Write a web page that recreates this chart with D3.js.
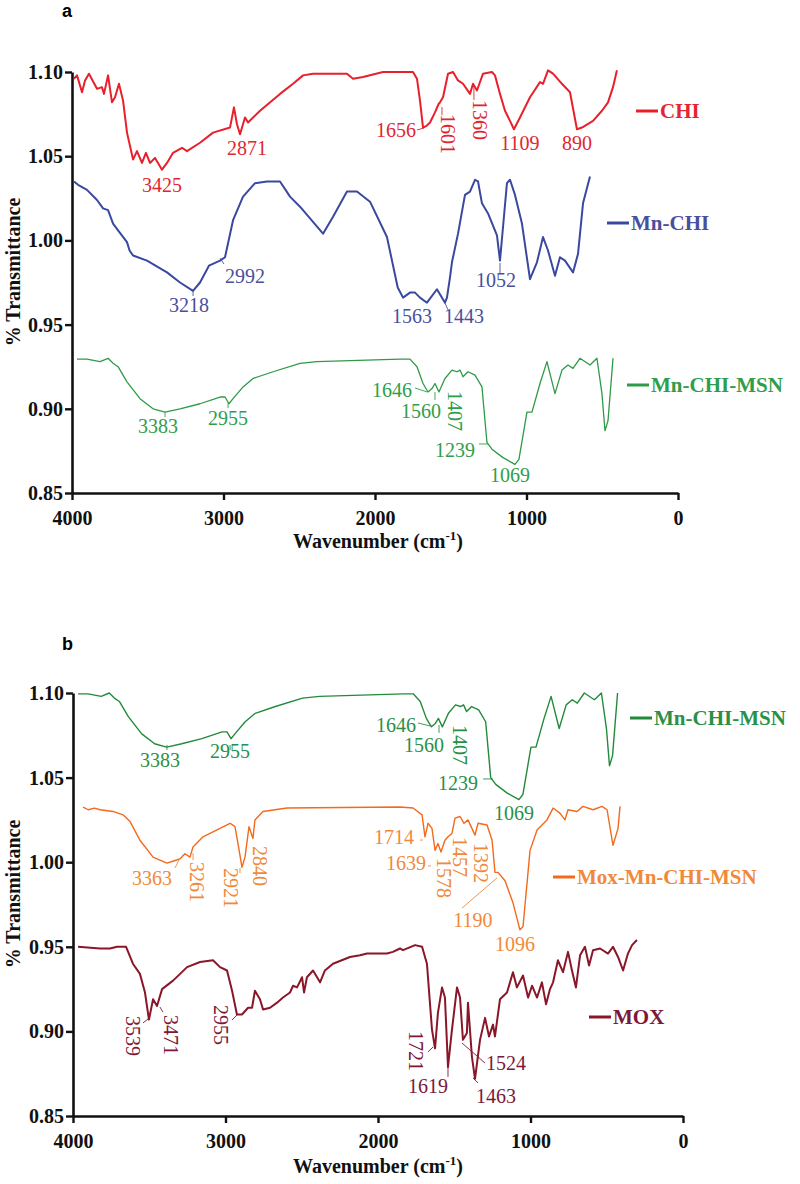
<!DOCTYPE html>
<html><head><meta charset="utf-8">
<script src="https://cdn.jsdelivr.net/npm/d3@7"></script>
<style>body{margin:0;background:#fff}svg{display:block}</style>
</head><body>
<script>
// ---------- data ----------
const yTicks = [0.85, 0.90, 0.95, 1.00, 1.05, 1.10];
const xTicks = [4000, 3000, 2000, 1000, 0];

// [wavenumber, transmittance]
const chi = [[3987,1.096],[3967,1.098],[3934,1.088],[3914,1.095],[3888,1.099],[3835,1.090],[3802,1.091],[3789,1.087],[3762,1.098],[3736,1.082],[3716,1.085],[3690,1.093],[3663,1.083],[3637,1.064],[3597,1.048],[3571,1.053],[3538,1.046],[3512,1.052],[3485,1.046],[3452,1.049],[3406,1.042],[3373,1.046],[3333,1.052],[3274,1.055],[3241,1.053],[3155,1.058],[3069,1.064],[2957,1.067],[2931,1.079],[2911,1.069],[2891,1.063],[2858,1.073],[2838,1.070],[2759,1.077],[2627,1.087],[2541,1.093],[2475,1.098],[2409,1.099],[2185,1.099],[2145,1.096],[2079,1.097],[1947,1.100],[1835,1.100],[1749,1.100],[1723,1.096],[1703,1.083],[1683,1.067],[1660,1.068],[1637,1.070],[1604,1.076],[1580,1.081],[1571,1.082],[1551,1.085],[1518,1.099],[1485,1.100],[1452,1.095],[1419,1.093],[1373,1.087],[1353,1.093],[1327,1.089],[1287,1.099],[1228,1.100],[1208,1.098],[1175,1.087],[1142,1.077],[1109,1.071],[1083,1.066],[1043,1.073],[977,1.085],[911,1.094],[891,1.093],[858,1.101],[825,1.099],[766,1.093],[713,1.088],[667,1.066],[634,1.067],[561,1.071],[502,1.077],[462,1.082],[429,1.091],[403,1.101]];

const mnChi = [[3987,1.035],[3960,1.033],[3901,1.030],[3835,1.024],[3795,1.019],[3762,1.018],[3729,1.010],[3696,1.006],[3637,0.999],[3620,0.994],[3597,0.991],[3505,0.988],[3373,0.981],[3287,0.975],[3201,0.970],[3155,0.975],[3096,0.985],[3023,0.988],[2990,0.990],[2937,1.012],[2871,1.026],[2792,1.034],[2713,1.035],[2627,1.035],[2561,1.026],[2495,1.020],[2343,1.004],[2277,1.014],[2185,1.029],[2119,1.029],[2033,1.023],[1921,1.002],[1850,0.972],[1815,0.966],[1769,0.969],[1736,0.969],[1703,0.966],[1657,0.963],[1591,0.971],[1538,0.963],[1525,0.966],[1505,0.978],[1492,0.987],[1452,1.004],[1406,1.027],[1373,1.029],[1340,1.036],[1320,1.035],[1294,1.022],[1254,1.016],[1195,1.003],[1175,0.988],[1162,1.001],[1129,1.034],[1109,1.036],[1076,1.027],[1030,1.010],[977,0.977],[931,0.987],[891,1.002],[858,0.994],[812,0.979],[779,0.990],[746,0.988],[693,0.981],[660,0.992],[627,1.022],[581,1.038]];

const mnChiMsnA = [[3967,0.9295],[3901,0.9295],[3815,0.928],[3762,0.930],[3729,0.927],[3696,0.925],[3637,0.916],[3551,0.906],[3465,0.900],[3386,0.898],[3287,0.900],[3155,0.903],[3023,0.907],[2990,0.907],[2964,0.903],[2937,0.906],[2871,0.913],[2805,0.918],[2673,0.922],[2495,0.927],[2383,0.928],[1835,0.9295],[1769,0.9295],[1723,0.925],[1683,0.915],[1650,0.910],[1624,0.912],[1604,0.915],[1578,0.910],[1538,0.918],[1492,0.923],[1459,0.922],[1439,0.923],[1419,0.919],[1386,0.922],[1340,0.920],[1294,0.913],[1261,0.880],[1228,0.876],[1155,0.871],[1076,0.867],[1050,0.870],[997,0.898],[964,0.898],[911,0.915],[865,0.928],[812,0.909],[766,0.923],[726,0.926],[693,0.924],[647,0.930],[581,0.926],[535,0.930],[502,0.909],[482,0.887],[462,0.893],[429,0.930]];

const mnChiMsnB = [[3967,1.0995],[3901,1.0995],[3815,1.098],[3762,1.100],[3729,1.097],[3696,1.095],[3637,1.086],[3551,1.076],[3465,1.070],[3386,1.068],[3287,1.070],[3155,1.073],[3023,1.077],[2990,1.077],[2964,1.073],[2937,1.076],[2871,1.083],[2805,1.088],[2673,1.092],[2495,1.097],[2383,1.098],[1835,1.0995],[1769,1.0995],[1723,1.095],[1683,1.085],[1650,1.080],[1624,1.082],[1604,1.085],[1578,1.080],[1538,1.088],[1492,1.093],[1459,1.092],[1439,1.093],[1419,1.089],[1386,1.092],[1340,1.090],[1294,1.083],[1261,1.050],[1228,1.046],[1155,1.041],[1076,1.037],[1050,1.040],[997,1.068],[964,1.068],[911,1.085],[865,1.098],[812,1.079],[766,1.093],[726,1.096],[693,1.094],[647,1.100],[581,1.096],[535,1.100],[502,1.079],[482,1.057],[462,1.063],[429,1.100]];

const moxMnChiMsn = [[3934,1.0326],[3900,1.031],[3860,1.032],[3823,1.031],[3738,1.030],[3672,1.028],[3626,1.024],[3561,1.013],[3475,1.003],[3384,0.9995],[3331,1.001],[3298,1.002],[3266,1.005],[3233,1.003],[3213,1.009],[3148,1.015],[3036,1.020],[2970,1.023],[2938,1.021],[2918,1.011],[2892,0.997],[2872,1.003],[2846,1.021],[2820,1.014],[2807,1.025],[2754,1.030],[2597,1.032],[1856,1.0326],[1770,1.032],[1711,1.028],[1692,1.015],[1672,1.023],[1646,1.020],[1626,1.007],[1607,1.011],[1587,1.006],[1561,1.013],[1541,1.015],[1515,1.017],[1495,1.026],[1462,1.027],[1436,1.023],[1410,1.025],[1364,1.016],[1344,1.023],[1285,1.022],[1252,1.013],[1233,0.994],[1213,0.994],[1167,0.989],[1115,0.976],[1069,0.960],[1049,0.962],[1003,1.007],[957,1.019],[892,1.025],[852,1.032],[807,1.029],[774,1.025],[754,1.031],[695,1.030],[656,1.033],[590,1.031],[531,1.033],[498,1.031],[459,1.010],[426,1.020],[413,1.033]];

const mox = [[3967,0.950],[3823,0.949],[3757,0.949],[3711,0.950],[3652,0.950],[3607,0.940],[3561,0.934],[3528,0.923],[3502,0.907],[3475,0.919],[3449,0.915],[3416,0.925],[3344,0.930],[3252,0.938],[3167,0.941],[3082,0.942],[3036,0.938],[2990,0.936],[2957,0.924],[2925,0.910],[2892,0.910],[2852,0.914],[2826,0.914],[2807,0.924],[2774,0.919],[2754,0.913],[2708,0.914],[2662,0.917],[2623,0.920],[2577,0.923],[2557,0.927],[2531,0.926],[2498,0.932],[2485,0.923],[2466,0.932],[2426,0.936],[2380,0.929],[2348,0.936],[2295,0.940],[2184,0.944],[2118,0.945],[2072,0.946],[2007,0.946],[1941,0.946],[1902,0.947],[1856,0.949],[1836,0.948],[1757,0.951],[1711,0.950],[1679,0.940],[1646,0.901],[1626,0.890],[1607,0.911],[1580,0.926],[1561,0.920],[1541,0.879],[1515,0.901],[1482,0.926],[1462,0.920],[1443,0.895],[1417,0.899],[1410,0.917],[1384,0.885],[1364,0.872],[1331,0.895],[1298,0.908],[1272,0.897],[1246,0.904],[1233,0.897],[1200,0.919],[1154,0.923],[1115,0.935],[1089,0.926],[1049,0.933],[1016,0.920],[990,0.927],[957,0.920],[925,0.929],[898,0.916],[872,0.925],[852,0.929],[820,0.942],[787,0.935],[754,0.947],[728,0.936],[702,0.926],[675,0.945],[643,0.950],[616,0.939],[590,0.948],[544,0.949],[492,0.946],[459,0.950],[426,0.944],[393,0.936],[361,0.946],[334,0.951],[302,0.954]];

// peak labels: [text, wavenumber, transmittance, rotated]
const labelsChi = [["3425",3406,1.0287,0],["2871",2845,1.0507,0],["1656",1861,1.0614,0],["1601",1515,1.0632,1],["1360",1304,1.0715,1],["1109",1043,1.0537,0],["890",667,1.0537,0]];
const labelsMnChi = [["3218",3228,0.9575,0],["2992",2858,0.9747,0],["1563",1756,0.9510,0],["1443",1413,0.9510,0],["1052",1201,0.9723,0]];
const labelsMsnA = [["3383",3432,0.8856,0],["2955",2970,0.8904,0],["1646",1888,0.9070,0],["1560",1696,0.8945,0],["1407",1472,0.8987,1],["1239",1472,0.8714,0],["1069",1109,0.8565,0]];
const labelsMsnB = [["3383",3430,1.0563,0],["2955",2970,1.0616,0],["1646",1882,1.0770,0],["1560",1698,1.0651,0],["1407",1462,1.0693,1],["1239",1475,1.0427,0],["1069",1108,1.0249,0]];
const labelsMox2 = [["3363",3482,0.9865,0],["3261",3187,0.9883,1],["2921",2964,0.9848,1],["2840",2774,0.9978,1],["1714",1895,1.0108,0],["1639",1816,0.9954,0],["1578",1567,0.9907,1],["1457",1462,1.0031,1],["1392",1325,0.9995,1],["1190",1377,0.9617,0],["1096",1102,0.9475,0]];
const labelsMox = [["3539",3607,0.8973,1],["3471",3357,0.8979,1],["2955",3030,0.9038,1],["1721",1751,0.8884,1],["1619",1672,0.8636,0],["1524",1161,0.8772,0],["1463",1226,0.8577,0]];

// leader lines: [wn1, T1, wn2, T2]
const leadChi = [[1723,1.0656,1677,1.0667],[1558,1.0792,1558,1.0745],[1347,1.0911,1347,1.0834]];
const leadMnChi = [[3201,0.9705,3201,0.967],[3023,0.9895,2997,0.986],[1538,0.9628,1518,0.9587],[1175,0.9866,1175,0.9806]];
const leadMsnA = [[3386,0.8981,3386,0.8951],[2970,0.9034,2970,0.9004],[1736,0.9124,1657,0.9100],[1604,0.9100,1604,0.9052],[1314,0.8791,1254,0.8791]];
const leadMsnB = [[3384,1.0693,3384,1.0663],[2970,1.0693,2970,1.0663],[1738,1.0823,1659,1.0805],[1600,1.0811,1600,1.0764],[1311,1.0492,1246,1.0492]];
const leadMox2 = [[3331,0.9966,3298,1.0025],[3213,1.0054,3213,1.0013],[2905,0.9966,2905,0.9936],[1725,1.0131,1705,1.0131],[1672,0.9978,1652,0.9978],[1449,0.9729,1220,0.9907]];
const leadMox = [[3541,0.905,3508,0.9073],[3430,0.9144,3410,0.9114],[2957,0.9067,2925,0.9097],[1672,0.8879,1639,0.8908],[1541,0.8790,1541,0.8731],[1449,0.8931,1298,0.8813],[1377,0.8725,1344,0.8695]];

const seriesNames = ["CHI","Mn-CHI","Mn-CHI-MSN","Mn-CHI-MSN","Mox-Mn-CHI-MSN","MOX"];

// ---------- drawing ----------
const svg = d3.select("body").append("svg").attr("width",800).attr("height",1184);
const serif = "'Liberation Serif','Times New Roman',serif";

const panels = [
  {tag:"a", x:[72,678], y:[493,72], tagPos:[62,17], titleY:548, ytitle:272,
   series:[
     {data:chi, name:seriesNames[0], line:"#e8202b", text:"#e2262f", w:2, labels:labelsChi, leads:leadChi, leg:[636,111]},
     {data:mnChi, name:seriesNames[1], line:"#3a48a0", text:"#4a4f9c", w:2, labels:labelsMnChi, leads:leadMnChi, leg:[607,223]},
     {data:mnChiMsnA, name:seriesNames[2], line:"#2f9a47", text:"#2f9e4a", w:1.3, labels:labelsMsnA, leads:leadMsnA, leg:[627,385]}
   ]},
  {tag:"b", x:[73,683], y:[1116,693], tagPos:[62,650], titleY:1173, ytitle:894,
   series:[
     {data:mnChiMsnB, name:seriesNames[3], line:"#238a3b", text:"#2a9048", w:1.4, labels:labelsMsnB, leads:leadMsnB, leg:[630,718]},
     {data:moxMnChiMsn, name:seriesNames[4], line:"#f26a1c", text:"#f08a3a", w:1.4, labels:labelsMox2, leads:leadMox2, leg:[553,877]},
     {data:mox, name:seriesNames[5], line:"#8a1629", text:"#7c1838", w:2, labels:labelsMox, leads:leadMox, leg:[589,1017]}
   ]}
];

panels.forEach(p => {
  const x = d3.scaleLinear().domain([4000,0]).range(p.x);
  const y = d3.scaleLinear().domain([0.85,1.10]).range(p.y);
  const g = svg.append("g");

  // axes
  const ya = g.append("g").attr("transform",`translate(${p.x[0]},0)`)
    .call(d3.axisLeft(y).tickValues(yTicks).tickFormat(d3.format(".2f")).tickSize(7).tickPadding(2).tickSizeOuter(0));
  const xa = g.append("g").attr("transform",`translate(0,${p.y[0]})`)
    .call(d3.axisBottom(x).tickValues(xTicks).tickFormat(d3.format("d")).tickSize(7).tickPadding(11).tickSizeOuter(0));
  [ya,xa].forEach(a => {
    a.select(".domain").attr("stroke","#111").attr("stroke-width",2.6);
    a.selectAll(".tick line").attr("stroke","#111").attr("stroke-width",2.4);
    a.selectAll(".tick text").attr("fill","#111").style("font-family",serif)
      .style("font-weight","bold").style("font-size","20px");
  });

  // panel tag
  svg.append("text").attr("x",p.tagPos[0]).attr("y",p.tagPos[1]).text(p.tag)
    .style("font-family","'Liberation Sans',Arial,sans-serif").style("font-weight","bold").style("font-size","18px");

  // axis titles
  const t = svg.append("text").attr("x",378).attr("y",p.titleY).attr("text-anchor","middle")
    .style("font-family",serif).style("font-weight","bold").style("font-size","20px").attr("fill","#111");
  t.append("tspan").text("Wavenumber (cm");
  t.append("tspan").attr("dy",-8).style("font-size","13px").text("-1");
  t.append("tspan").attr("dy",8).text(")");
  svg.append("text").attr("transform",`translate(20,${p.ytitle}) rotate(-90)`).attr("text-anchor","middle")
    .style("font-family",serif).style("font-weight","bold").style("font-size","20px").attr("fill","#111")
    .text("% Transmittance");

  const line = d3.line().x(d=>x(d[0])).y(d=>y(d[1]));
  p.series.forEach(s => {
    g.append("path").datum(s.data).attr("d",line).attr("fill","none")
      .attr("stroke",s.line).attr("stroke-width",s.w).attr("stroke-linejoin","round");
    s.leads.forEach(l => {
      g.append("line").attr("x1",x(l[0])).attr("y1",y(l[1])).attr("x2",x(l[2])).attr("y2",y(l[3]))
        .attr("stroke",s.text).attr("stroke-width",0.9);
    });
    s.labels.forEach(l => {
      const tx = g.append("text").text(l[0]).attr("fill",s.text)
        .style("font-family",serif).style("font-size","20px").attr("text-anchor","middle");
      if (l[3]) tx.attr("transform",`translate(${x(l[1])},${y(l[2])}) rotate(90)`).attr("dy","0.35em");
      else tx.attr("x",x(l[1])).attr("y",y(l[2]));
    });
    // legend
    g.append("line").attr("x1",s.leg[0]).attr("x2",s.leg[0]+22).attr("y1",s.leg[1]).attr("y2",s.leg[1])
      .attr("stroke",s.line).attr("stroke-width",3);
    g.append("text").attr("x",s.leg[0]+24).attr("y",s.leg[1]+7).text(s.name).attr("fill",s.text)
      .style("font-family",serif).style("font-weight","bold").style("font-size","21px");
  });
});
</script>
</body></html>
